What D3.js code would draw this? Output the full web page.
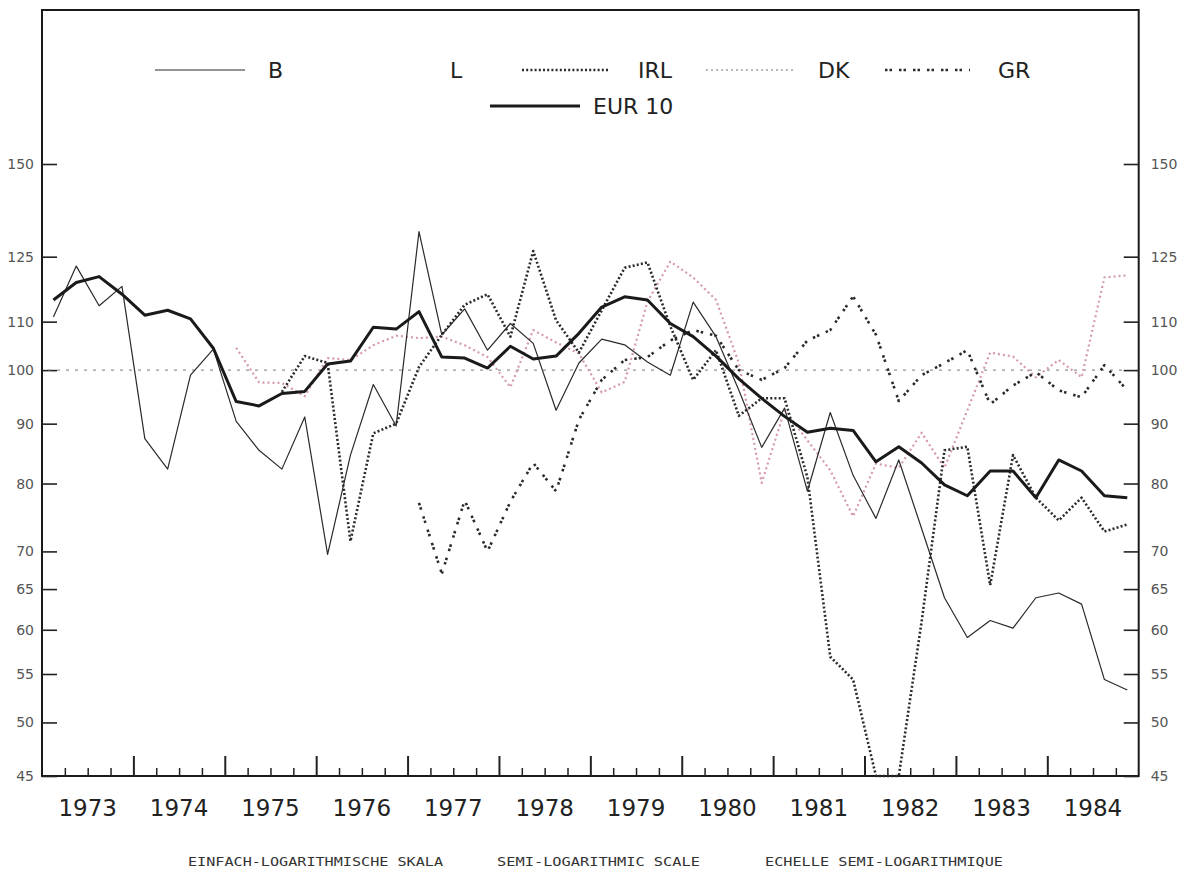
<!DOCTYPE html>
<html><head><meta charset="utf-8">
<script src="https://cdn.jsdelivr.net/npm/d3@7"></script>
<style>
html,body{margin:0;padding:0;background:#fff;}
svg{display:block;}
</style></head>
<body>
<svg id="chart" width="1184" height="872"></svg>
<script>
// ---------- DATA ----------
const years = [1973,1974,1975,1976,1977,1978,1979,1980,1981,1982,1983,1984];
const yTicks = [45,50,55,60,65,70,80,90,100,110,125,150];
const seriesNames = ["B","L","IRL","DK","GR","EUR 10"];
// quarterly values 1973Q1 .. 1984Q4 (48 points), null = no data
const B = [111,122.7,113.5,117.9, 87.4,82.3,99,104.2, 90.4,85.4,82.3,91.2, 69.6,84.6,97.2,89.6,
  131.3,107.2,112.8,104, 109.6,105.4,92.4,101.4, 106.3,105.1,101.6,99, 114.3,106.8,96.1,85.9,
  92.8,78.8,92,81.3, 74.7,83.8,73.2,63.9, 59.1,61.1,60.2,63.9, 64.5,63.1,54.4,53.3];
const L = [];
const IRL = [null,null,null,null, null,null,null,null, null,null,95.8,102.8, 101.4,71.4,88.3,90,
  100.6,107.2,113.7,116.1, 106.8,126.4,110.3,103.5, 112.5,122.3,123.6,109, 98.1,104,91.4,94.6,
  94.6,81,56.9,54.4, 45,45,61,85.4, 86,65.5,84.6,77.8, 74.4,77.8,72.8,73.8];
const DK = [null,null,null,null, null,null,null,null, 104.5,97.6,97.5,95, 102.4,102,105,107,
  106.5,106.8,105,102.6, 96.7,108.2,105.6,103.3, 95.7,97.7,114.4,123.8, 120,114.8,101.4,80.1,
  92.4,87.1,82.1,75, 83.2,82.5,88.4,82.5, 92.4,103.5,102.7,98.6, 102,98.6,120,120.5];
const GR = [null,null,null,null, null,null,null,null, null,null,null,null, null,null,null,null,
  77,67,77.4,70, 77.2,83.3,78.8,90.7, 98.1,102,102.6,106, 108.2,107,100,98.1,
  100.4,106,108.2,115.6, 107.2,94.1,99,101.4, 104,93.5,97,99.6, 96.1,94.8,101,96.1];
const EUR10 = [114.8,118.8,120.2,116.1, 111.4,112.5,110.6,104.4, 94,93.2,95.5,95.9, 101.2,101.8,108.8,108.4,
  112.2,102.6,102.4,100.4, 104.8,102.2,102.8,107.5, 113.2,115.5,114.8,109.6, 106.8,102.8,98.3,94.6,
  91.3,88.5,89.2,88.8, 83.5,86,83.3,79.8, 78.1,82,82,77.8, 83.8,82,78.1,77.8];
const footTexts = ["EINFACH-LOGARITHMISCHE SKALA","SEMI-LOGARITHMIC SCALE","ECHELLE SEMI-LOGARITHMIQUE"];

// quarter positions (categories)
const quarters = [];
years.forEach(yr => { for (let q = 0; q < 4; q++) quarters.push(yr + (q + 0.5) / 4); });

// ---------- LAYOUT ----------
const svg = d3.select("#chart");
const pL = 42, pR = 1138.7, pT = 10, pB = 776;
const x = d3.scaleLinear().domain([1973, 1985]).range([pL, pR]);
const y = d3.scaleLog().domain([45, 150]).range([pB, 164]);

const font = "'DejaVu Sans', sans-serif";

// frame
svg.append("rect").attr("x", pL).attr("y", pT).attr("width", pR - pL).attr("height", pB - pT)
  .attr("fill", "none").attr("stroke", "#1a1a1a").attr("stroke-width", 2);

// y axes
const yl = svg.append("g").attr("transform", `translate(${pL},0)`)
  .call(d3.axisLeft(y).tickValues(yTicks).tickFormat(d3.format("d")).tickSizeInner(-15).tickSizeOuter(0).tickPadding(24));
const yr = svg.append("g").attr("transform", `translate(${pR},0)`)
  .call(d3.axisRight(y).tickValues(yTicks).tickFormat(d3.format("d")).tickSizeInner(-15).tickSizeOuter(0).tickPadding(26));
[yl, yr].forEach(g => {
  g.select(".domain").remove();
  g.selectAll("line").attr("stroke", "#222").attr("stroke-width", 1.6);
  g.selectAll("text").attr("font-family", font).attr("font-size", 14).attr("fill", "#555");
});
yl.selectAll("text").attr("dx", 16);
yr.selectAll("text").attr("dx", -14);

// x axis ticks (quarter boundaries)
const qb = [];
for (let i = 1; i < years.length * 4; i++) qb.push(1973 + i / 4);
const isYear = d => Math.abs(d - Math.round(d)) < 1e-6;
const xa = svg.append("g").attr("transform", `translate(0,${pB})`)
  .call(d3.axisBottom(x).tickValues(qb).tickSize(0).tickFormat(""));
xa.select(".domain").remove();
xa.selectAll(".tick line").attr("y2", d => isYear(d) ? -20 : -8)
  .attr("stroke", "#222").attr("stroke-width", d => isYear(d) ? 2 : 1.5);
// year labels
svg.append("g").selectAll("text").data(years).join("text")
  .attr("x", d => x(d + 0.5)).attr("y", 816).attr("text-anchor", "middle")
  .attr("font-family", font).attr("font-size", 23).attr("fill", "#222").text(d => d);

// reference line at 100
svg.append("line").attr("x1", pL + 6).attr("x2", pR - 12).attr("y1", y(100)).attr("y2", y(100))
  .attr("stroke", "#777").attr("stroke-width", 1).attr("stroke-dasharray", "3,6");

// ---------- LINES ----------
const styles = {
  "B":     {data: B,     color: "#2a2a2a", width: 1.2, dash: null},
  "L":     {data: L,     color: "#f3efc8", width: 1.2, dash: null},
  "IRL":   {data: IRL,   color: "#2a2a2a", width: 2.6, dash: "2,2.2"},
  "DK":    {data: DK,    color: "#d49aa8", width: 2.2, dash: "2,3"},
  "GR":    {data: GR,    color: "#2a2a2a", width: 2.6, dash: "2.5,2,2.5,7"},
  "EUR 10":{data: EUR10, color: "#1a1a1a", width: 3,   dash: null}
};
const line = d3.line().defined(d => d[1] != null).x(d => x(d[0])).y(d => y(d[1]));
const drawOrder = ["DK","GR","IRL","B","EUR 10"];
drawOrder.forEach(k => {
  const s = styles[k];
  svg.append("path").datum(quarters.map((q, i) => [q, s.data[i] == null ? null : s.data[i]]))
    .attr("d", line).attr("fill", "none").attr("stroke", s.color).attr("stroke-width", s.width)
    .attr("stroke-dasharray", s.dash).attr("stroke-linejoin", "round");
});

// ---------- LEGEND ----------
const legend = [
  {k: "B",      x1: 155, x2: 245, lx: 268, y: 70},
  {k: "L",      x1: null, x2: null, lx: 450, y: 70},
  {k: "IRL",    x1: 522, x2: 608, lx: 638, y: 70},
  {k: "DK",     x1: 706, x2: 795, lx: 818, y: 70},
  {k: "GR",     x1: 885, x2: 970, lx: 998, y: 70},
  {k: "EUR 10", x1: 490, x2: 580, lx: 593, y: 106}
];
const lg = svg.append("g");
legend.forEach(l => {
  const s = styles[l.k];
  if (l.x1 != null) {
    lg.append("line").attr("x1", l.x1).attr("x2", l.x2).attr("y1", l.y).attr("y2", l.y)
      .attr("stroke", l.k === "DK" ? "#b8b8b8" : s.color).attr("stroke-width", l.k === "B" ? 1.2 : s.width)
      .attr("stroke-dasharray", s.dash);
  }
  lg.append("text").attr("x", l.lx).attr("y", l.y + 8).attr("font-family", font).attr("font-size", 22)
    .attr("fill", "#222").text(l.k);
});

// ---------- FOOTER ----------
const foot = [{x: 188, w: 255}, {x: 497, w: 203}, {x: 765, w: 238}];
svg.append("g").selectAll("text").data(footTexts).join("text")
  .attr("x", (d, i) => foot[i].x).attr("y", 866).attr("textLength", (d, i) => foot[i].w)
  .attr("lengthAdjust", "spacingAndGlyphs")
  .attr("font-family", "'DejaVu Sans Mono', monospace").attr("font-size", 12).attr("fill", "#333").text(d => d);
</script>
</body></html>
